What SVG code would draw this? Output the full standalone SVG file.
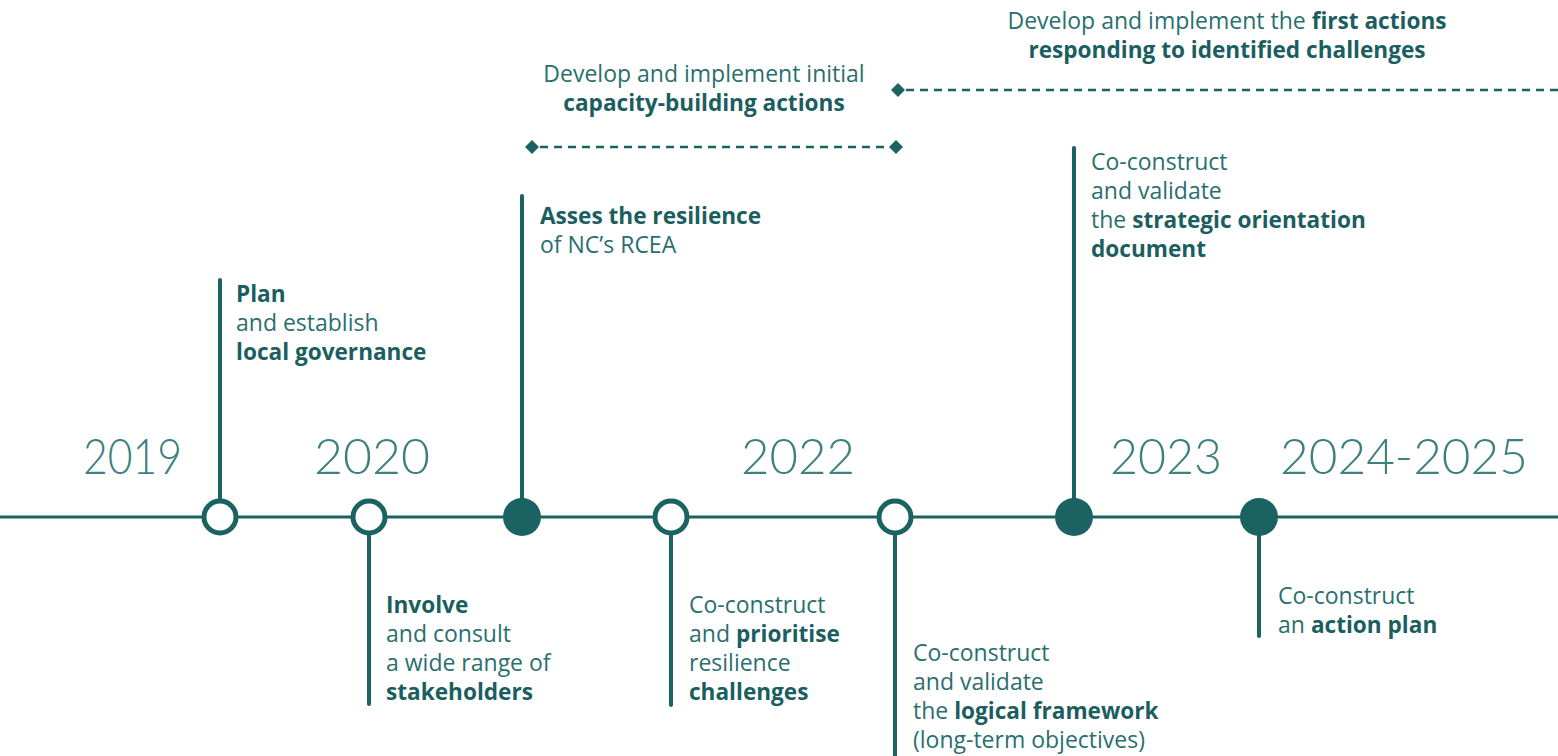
<svg xmlns="http://www.w3.org/2000/svg" width="1558" height="756" viewBox="0 0 1558 756">
<style>
.bg{fill:#ffffff}
.ln{stroke:#1b6363;fill:none}
.main{stroke-width:3}
.stem{stroke-width:4;stroke-linecap:round}
.open{fill:#ffffff;stroke:#1b6363;stroke-width:5}
.fill{fill:#1b6363}
.dash{stroke:#1b6363;stroke-width:2.5;stroke-dasharray:8 6;fill:none}
.dia{fill:#1b6363}
.yr{font-family:"Lato","Inter","Liberation Sans",sans-serif;font-weight:300;font-size:50px;fill:#3e7f7f}
.t{font-family:"Open Sans","Noto Sans","Liberation Sans",sans-serif;font-weight:400;font-size:23px;fill:#2a6f6f}
.b{font-weight:700;font-size:22.6px;fill:#1b5e5f}
</style>
<rect class="bg" x="0" y="0" width="1558" height="756"/>
<g id="connectors">
<line class="ln main" x1="0" y1="517" x2="1558" y2="517"/>
<line class="ln stem" x1="220" y1="280" x2="220" y2="517"/>
<line class="ln stem" x1="369" y1="517" x2="369" y2="704"/>
<line class="ln stem" x1="522" y1="196" x2="522" y2="517"/>
<line class="ln stem" x1="671" y1="517" x2="671" y2="705"/>
<line class="ln stem" x1="895" y1="517" x2="895" y2="760"/>
<line class="ln stem" x1="1074" y1="148" x2="1074" y2="517"/>
<line class="ln stem" x1="1259" y1="517" x2="1259" y2="636"/>
<line class="dash" x1="540" y1="147" x2="890" y2="147"/>
<line class="dash" x1="906" y1="90" x2="1558" y2="90"/>
<path class="dia" d="M532 140 L539 147 L532 154 L525 147 Z"/>
<path class="dia" d="M896 140 L903 147 L896 154 L889 147 Z"/>
<path class="dia" d="M898 83 L905 90 L898 97 L891 90 Z"/>
</g>
<g id="years">
<text class="yr" x="83" y="474" textLength="99" lengthAdjust="spacingAndGlyphs">2019</text>
<text class="yr" x="314" y="474" textLength="116" lengthAdjust="spacingAndGlyphs">2020</text>
<text class="yr" x="741" y="474" textLength="114" lengthAdjust="spacingAndGlyphs">2022</text>
<text class="yr" x="1110" y="474" textLength="112" lengthAdjust="spacingAndGlyphs">2023</text>
<text class="yr" x="1280" y="474" textLength="248" lengthAdjust="spacingAndGlyphs">2024-2025</text>
</g>
<g id="n2019">
<circle class="open" cx="220" cy="517" r="16"/>
<text class="t" x="236" y="302"><tspan class="b">Plan</tspan></text>
<text class="t" x="236" y="331">and establish</text>
<text class="t" x="236" y="360"><tspan class="b">local governance</tspan></text>
</g>
<g id="n2020">
<circle class="open" cx="369" cy="517" r="16"/>
<text class="t" x="386" y="613"><tspan class="b">Involve</tspan></text>
<text class="t" x="386" y="642">and consult</text>
<text class="t" x="386" y="671">a wide range of</text>
<text class="t" x="386" y="700"><tspan class="b">stakeholders</tspan></text>
</g>
<g id="nAssess">
<circle class="fill" cx="522" cy="517" r="19"/>
<text class="t" x="540" y="224"><tspan class="b">Asses the resilience</tspan></text>
<text class="t" x="540" y="253">of NC’s RCEA</text>
</g>
<g id="nChallenges">
<circle class="open" cx="671" cy="517" r="16"/>
<text class="t" x="689" y="613">Co-construct</text>
<text class="t" x="689" y="642">and <tspan class="b">prioritise</tspan></text>
<text class="t" x="689" y="671">resilience</text>
<text class="t" x="689" y="700"><tspan class="b">challenges</tspan></text>
</g>
<g id="nCapacity">
<text class="t" x="704" y="82" text-anchor="middle">Develop and implement initial</text>
<text class="t" x="704" y="111" text-anchor="middle"><tspan class="b">capacity-building actions</tspan></text>
</g>
<g id="nLogical">
<circle class="open" cx="895" cy="517" r="16"/>
<text class="t" x="913" y="661">Co-construct</text>
<text class="t" x="913" y="690">and validate</text>
<text class="t" x="913" y="719">the <tspan class="b">logical framework</tspan></text>
<text class="t" x="913" y="748">(long-term objectives)</text>
</g>
<g id="nFirstActions">
<text class="t" x="1227" y="29" text-anchor="middle">Develop and implement the <tspan class="b">first actions</tspan></text>
<text class="t" x="1227" y="58" text-anchor="middle"><tspan class="b">responding to identified challenges</tspan></text>
</g>
<g id="nStrategic">
<circle class="fill" cx="1074" cy="517" r="19"/>
<text class="t" x="1091" y="170">Co-construct</text>
<text class="t" x="1091" y="199">and validate</text>
<text class="t" x="1091" y="228">the <tspan class="b">strategic orientation</tspan></text>
<text class="t" x="1091" y="257"><tspan class="b">document</tspan></text>
</g>
<g id="nActionPlan">
<circle class="fill" cx="1259" cy="517" r="19"/>
<text class="t" x="1278" y="604">Co-construct</text>
<text class="t" x="1278" y="633">an <tspan class="b">action plan</tspan></text>
</g>
</svg>
